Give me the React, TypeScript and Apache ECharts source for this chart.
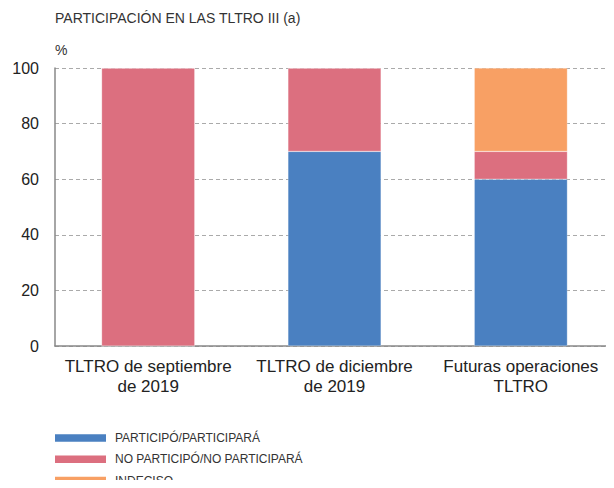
import React, { useEffect, useRef } from "react";
import * as echarts from "echarts";

const categories = ["TLTRO de septiembre\nde 2019", "TLTRO de diciembre\nde 2019", "Futuras operaciones\nTLTRO"];
const participo = [0, 70, 60];
const noParticipo = [100, 30, 10];
const indeciso = [0, 0, 30];
const seriesNames = ["PARTICIPÓ/PARTICIPARÁ", "NO PARTICIPÓ/NO PARTICIPARÁ", "INDECISO"];
const colors = ["#4a80c1", "#dc6f7f", "#f8a064"];

const FONT = "'Liberation Sans', Arial, Helvetica, sans-serif";

export default function App() {
  const ref = useRef<HTMLDivElement>(null);
  useEffect(() => {
    const chart = echarts.init(ref.current!, undefined, { renderer: "svg" });
    const values = [participo, noParticipo, indeciso];
    const legendItems: any[] = [];
    seriesNames.forEach((n, i) => {
      const cy = 438 + i * 21.3;
      legendItems.push({
        type: "rect",
        shape: { x: 55, y: cy - 3.8, width: 51, height: 7.6 },
        style: { fill: colors[i] },
      });
      legendItems.push({
        type: "text",
        x: 115,
        y: cy,
        style: {
          text: n,
          fill: "#333",
          font: `12px ${FONT}`,
          verticalAlign: "middle",
          align: "left",
        },
      });
    });
    chart.setOption({
      animation: false,
      textStyle: { fontFamily: FONT },
      title: [
        {
          text: "PARTICIPACIÓN EN LAS TLTRO III (a)",
          left: 55,
          top: 11,
          padding: 0,
          textStyle: { fontSize: 14, fontWeight: "normal", color: "#333", fontFamily: FONT },
        },
        {
          text: "%",
          left: 55,
          top: 43,
          padding: 0,
          textStyle: { fontSize: 14, fontWeight: "normal", color: "#333", fontFamily: FONT },
        },
      ],
      graphic: legendItems,
      grid: { left: 55, right: 0, top: 68, bottom: 142 },
      xAxis: {
        type: "category",
        data: categories,
        axisLine: { lineStyle: { color: "#888", width: 1.5 } },
        axisTick: { inside: true, length: 4, lineStyle: { color: "#888" } },
        axisLabel: { fontSize: 17, color: "#222", fontFamily: FONT, lineHeight: 20, margin: 10, interval: 0 },
      },
      yAxis: {
        type: "value",
        min: 0,
        max: 100,
        interval: 20,
        axisLine: { show: true, lineStyle: { color: "#888", width: 1.5 } },
        axisTick: { show: false },
        axisLabel: { fontSize: 16, color: "#222", fontFamily: FONT, margin: 16 },
        splitLine: { lineStyle: { color: "#aaa", type: [4, 3] } },
      },
      series: seriesNames.map((n, i) => ({
        name: n,
        type: "bar",
        stack: "total",
        barWidth: "50%",
        data: values[i],
        itemStyle: { color: colors[i], borderColor: "rgba(255,255,255,0.5)", borderWidth: 0.5 },
      })),
    });
    return () => chart.dispose();
  }, []);
  return <div ref={ref} style={{ width: 614, height: 488, margin: -8 }} />;
}
